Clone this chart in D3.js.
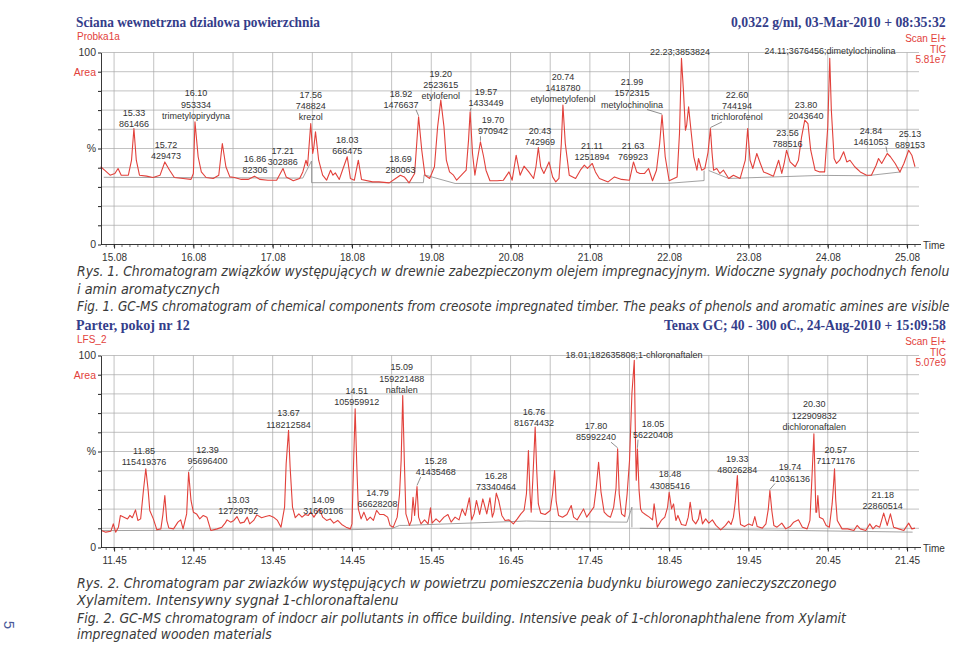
<!DOCTYPE html>
<html><head><meta charset="utf-8">
<script src="https://cdn.jsdelivr.net/npm/d3@7"></script>
<style>body{margin:0;background:#fff}svg{display:block}</style>
</head><body><svg id="c" width="960" height="651"></svg>
<script>
// ---------- DATA ----------
const topTicks = ["15.08","16.08","17.08","18.08","19.08","20.08","21.08","22.08","23.08","24.08","25.08"];
const bottomTicks = ["11.45","12.45","13.45","14.45","15.45","16.45","17.45","18.45","19.45","20.45","21.45"];
const topDomain = [14.915, 25.18];
const bottomDomain = [11.285, 21.55];
const yTickText = [[100,"100"],[90,"Area"],[50,"%"],[0,"0"]];

// [retention time, % of TIC]
const topTrace = [[14.91,40.5],[14.96,38.7],[15.03,36.1],[15.09,37],[15.13,39.6],[15.17,36.1],[15.26,36.1],[15.30,43.9],[15.33,60.4],[15.36,43.9],[15.40,36.1],[15.49,35.6],[15.57,34.9],[15.66,36.1],[15.72,43],[15.78,38.7],[15.84,34.9],[15.95,34.4],[16.05,33.9],[16.08,37],[16.10,63.9],[16.14,45.7],[16.18,37.8],[16.24,34.9],[16.33,34.4],[16.40,36.1],[16.445,52.6],[16.49,40.5],[16.54,35.2],[16.60,34.9],[16.685,33.9],[16.77,33.9],[16.85,35.6],[16.92,33.9],[17.02,33.5],[17.13,33.5],[17.21,39.6],[17.25,35.2],[17.34,33.2],[17.42,34.4],[17.46,37.8],[17.50,43.9],[17.52,41],[17.56,63],[17.585,47.4],[17.60,51],[17.62,58.7],[17.66,43.9],[17.71,36.1],[17.76,33.5],[17.81,38.7],[17.84,36.1],[17.87,37.3],[17.92,33.9],[17.96,38.7],[18.02,45.7],[18.06,34.4],[18.11,33.5],[18.16,43.9],[18.20,33.9],[18.34,32.6],[18.42,32.6],[18.55,32.1],[18.63,34.4],[18.69,36.1],[18.74,35.2],[18.80,32.1],[18.87,37],[18.92,66.5],[18.96,49.1],[19.00,36.1],[19.06,34.4],[19.12,40.5],[19.16,61.3],[19.20,75.2],[19.24,61.3],[19.27,43.9],[19.31,37.8],[19.36,36.1],[19.40,33.5],[19.46,36.1],[19.52,38.7],[19.55,54.5],[19.57,69.1],[19.60,47.4],[19.63,36.1],[19.66,43.9],[19.70,53.5],[19.74,45.7],[19.77,38.7],[19.82,33.2],[19.91,33.2],[19.99,33.5],[20.06,37.8],[20.10,33.5],[20.15,46.5],[20.20,36.1],[20.25,40.8],[20.31,37.8],[20.37,34.4],[20.40,40.5],[20.43,50.5],[20.46,40.5],[20.50,37],[20.565,43],[20.61,35.2],[20.65,32.6],[20.69,34.4],[20.72,52.6],[20.74,72.6],[20.77,52.6],[20.82,36.1],[20.90,34.4],[20.96,38.7],[21.01,41.3],[21.05,39.6],[21.11,42.2],[21.15,37.8],[21.20,34.4],[21.31,32.6],[21.39,35.2],[21.48,33.9],[21.58,33.5],[21.63,43],[21.67,37.8],[21.71,37],[21.77,37],[21.82,39.6],[21.87,33.2],[21.92,38.7],[21.96,52.6],[21.99,67.4],[22.03,45.7],[22.08,33.2],[22.18,35.2],[22.21,57.8],[22.235,97],[22.26,80],[22.285,59.5],[22.30,62],[22.325,71.7],[22.355,59.5],[22.39,45.7],[22.43,38.7],[22.45,44.8],[22.49,38.7],[22.53,39.6],[22.57,48],[22.60,60.4],[22.62,48],[22.64,38.7],[22.68,39.6],[22.72,37],[22.765,38.7],[22.83,34.4],[22.89,36.1],[22.975,34.4],[23.04,43.9],[23.07,60.4],[23.10,43.9],[23.135,39.6],[23.185,47.4],[23.23,42.2],[23.27,37.8],[23.32,37],[23.395,35.6],[23.46,43.9],[23.50,37],[23.53,42.2],[23.56,49.1],[23.605,43],[23.67,40.5],[23.71,43.9],[23.75,56.1],[23.79,64.8],[23.83,63],[23.865,49.1],[23.92,38.7],[23.98,37.8],[24.04,37.8],[24.08,61.3],[24.105,97],[24.125,70],[24.16,44.8],[24.19,42.2],[24.23,43.9],[24.28,48.3],[24.32,43],[24.36,43.9],[24.42,40.5],[24.49,37.8],[24.57,36.1],[24.63,36.1],[24.69,41.3],[24.72,44.8],[24.76,42.2],[24.83,47.4],[24.87,45.7],[24.93,42.2],[24.99,37.8],[25.04,42.2],[25.10,49.1],[25.14,46.5],[25.18,40.5]];

const topBaseline = [
  [[14.95,35],[17.46,34.6],[17.57,43.5]],
  [[17.57,43.5],[17.57,32.2],[18.98,32.2],[18.99,36.3],[19.38,31.8],[22.05,31.8],[22.52,33.3],[22.52,38.5]],
  [[22.58,38.5],[22.83,34.4],[24.0,36.0],[24.57,35.8],[25.0,37.8]]
];

const bottomTrace = [[11.29,8.9],[11.345,8],[11.41,8.5],[11.44,12.3],[11.47,8],[11.505,10.6],[11.53,16.7],[11.575,15.8],[11.62,14.9],[11.65,16.7],[11.68,15.5],[11.72,19.6],[11.75,14.1],[11.785,14.9],[11.82,29.7],[11.85,41],[11.88,29.7],[11.90,19.3],[11.945,14.9],[11.99,9.2],[12.04,9.7],[12.065,17],[12.09,27.1],[12.115,14],[12.14,10.2],[12.20,9.7],[12.255,13.2],[12.29,14.4],[12.32,9.7],[12.365,17.5],[12.39,39.2],[12.42,24.5],[12.45,18.4],[12.49,17.5],[12.53,14.9],[12.575,16.7],[12.62,15.8],[12.67,8.9],[12.75,9.7],[12.81,10.6],[12.85,12.7],[12.875,14.4],[12.92,13.2],[12.96,14.1],[13.0,16.1],[13.04,12.7],[13.09,13.2],[13.13,15.8],[13.16,12.3],[13.21,14.1],[13.25,17],[13.31,15.5],[13.36,16.1],[13.41,16.7],[13.46,15.8],[13.51,14.1],[13.555,10.6],[13.60,21],[13.62,43.6],[13.65,61],[13.67,41.8],[13.70,21],[13.735,15.5],[13.78,17.5],[13.82,15.8],[13.86,17.2],[13.90,16.7],[13.93,18.4],[13.97,15.8],[14.01,18.4],[14.04,20.1],[14.08,15.8],[14.13,14.1],[14.175,14.9],[14.22,12.7],[14.27,14.1],[14.32,12],[14.375,10.6],[14.43,9.7],[14.45,12.3],[14.47,43.6],[14.49,72.2],[14.51,43.6],[14.53,20.1],[14.565,14.9],[14.60,18.4],[14.64,14.1],[14.68,15.8],[14.72,14.1],[14.76,19.3],[14.80,17.2],[14.85,17.2],[14.90,15.8],[14.93,11.5],[14.97,10.6],[15.02,15.8],[15.05,28],[15.07,45.3],[15.09,79.2],[15.11,45.3],[15.13,17.5],[15.175,11.5],[15.20,14.1],[15.22,26.2],[15.24,16.7],[15.27,31.8],[15.29,15.8],[15.32,12.3],[15.365,14.4],[15.41,12.3],[15.44,20.7],[15.46,12.7],[15.51,14.9],[15.555,13.2],[15.61,15.8],[15.66,17.2],[15.70,13.2],[15.75,15.8],[15.80,14.4],[15.84,20.1],[15.88,16.7],[15.93,25.9],[15.96,14.4],[15.99,17.5],[16.02,24.5],[16.06,17.2],[16.10,25.3],[16.15,17.5],[16.19,25.9],[16.22,15.8],[16.24,18.4],[16.27,28.3],[16.30,24.5],[16.34,16.7],[16.38,14.1],[16.43,14.4],[16.485,12.3],[16.535,14.9],[16.58,17.5],[16.62,19.3],[16.65,28],[16.675,50.5],[16.695,28],[16.71,18.4],[16.73,35],[16.76,62.7],[16.78,40],[16.80,22.7],[16.83,17.9],[16.885,17.2],[16.95,19.3],[16.98,28],[17.005,40.1],[17.025,24],[17.055,16.7],[17.105,15.8],[17.16,17.2],[17.215,21.9],[17.245,15.8],[17.29,14.4],[17.33,17.2],[17.37,20.1],[17.41,15.8],[17.455,18.4],[17.50,21],[17.53,31],[17.56,44.4],[17.59,29],[17.63,18.4],[17.67,16.7],[17.71,15.8],[17.75,21],[17.78,31],[17.80,51.4],[17.82,28],[17.85,17.5],[17.89,16.1],[17.92,28],[17.95,45.3],[17.98,80],[18.01,97.5],[18.025,55],[18.035,35],[18.05,51.4],[18.07,30],[18.09,20],[18.11,18.4],[18.15,17.2],[18.20,15.8],[18.24,14.4],[18.26,22.7],[18.30,10.6],[18.35,14.1],[18.395,15.8],[18.43,21],[18.45,28.8],[18.48,20.1],[18.505,22.7],[18.535,14.1],[18.56,16.7],[18.605,12],[18.66,11.5],[18.69,15.8],[18.715,23.6],[18.745,14.4],[18.785,12.3],[18.82,14.9],[18.84,19.6],[18.87,12.3],[18.91,14.9],[18.95,12.7],[18.995,14.4],[19.04,11.5],[19.10,9.2],[19.16,11.5],[19.20,13.7],[19.23,12],[19.26,15.8],[19.285,24],[19.31,37.5],[19.33,20],[19.35,12],[19.40,10.9],[19.455,12.3],[19.50,11.5],[19.53,16.1],[19.56,10.9],[19.625,10.1],[19.67,12.3],[19.70,20],[19.72,29.7],[19.745,19],[19.77,11.5],[19.81,10.6],[19.87,12.7],[19.92,9.7],[19.975,10.9],[20.02,13.2],[20.08,14.4],[20.13,10.6],[20.19,9.7],[20.225,14.1],[20.25,36],[20.275,59.2],[20.30,18.4],[20.31,18.4],[20.325,27.1],[20.345,15.8],[20.39,14.9],[20.43,11.5],[20.47,10.6],[20.505,22.7],[20.52,31],[20.535,41],[20.55,25],[20.57,14.1],[20.63,9.7],[20.70,9.7],[20.78,8.9],[20.82,11.5],[20.86,9.7],[20.93,8.9],[20.98,12.3],[21.02,9.7],[21.06,11.5],[21.105,10.6],[21.155,17.9],[21.20,11.5],[21.24,17.5],[21.28,10.6],[21.345,9.7],[21.41,8.9],[21.47,12.7],[21.51,9.7],[21.55,10.1]];

const bottomBaseline = [
  [[11.29,8.8],[14.45,9.3],[14.95,9.8],[15.05,11.5],[15.12,11.5],[16.65,13.8],[17.0,13.5],[17.92,13.2],[17.98,21],[17.98,10.5]],
  [[18.08,10],[21.52,8]]
];

// peak annotations: rt text, extra lines, label anchor (time, % level of first line), peak height, leader line
const topLabels = [
  {rt:"15.33", lines:["861466"], lt:15.331, lp:68.6, ph:60.4, lead:false},
  {rt:"15.72", lines:["429473"], lt:15.735, lp:51.8, ph:43, lead:false},
  {rt:"16.10", lines:["953334","trimetylopirydyna"], lt:16.113, lp:78.8, ph:63.9, lead:false},
  {rt:"16.86", lines:["82306"], lt:16.857, lp:44.7, ph:35.6, lead:false},
  {rt:"17.21", lines:["302886"], lt:17.206, lp:48.9, ph:39.6, lead:false},
  {rt:"17.56", lines:["748824","krezol"], lt:17.56, lp:77.9, ph:63, lead:false},
  {rt:"18.03", lines:["666475"], lt:18.02, lp:54.4, ph:45.7, lead:false},
  {rt:"18.69", lines:["280063"], lt:18.692, lp:44.8, ph:36.1, lead:false},
  {rt:"18.92", lines:["1476637"], lt:18.698, lp:78.6, ph:66.5, lead:true},
  {rt:"19.20", lines:["2523615","etylofenol"], lt:19.2, lp:89, ph:75.2, lead:false},
  {rt:"19.57", lines:["1433449"], lt:19.77, lp:79.4, ph:69.1, lead:true},
  {rt:"19.70", lines:["970942"], lt:19.858, lp:64.8, ph:53.5, lead:true},
  {rt:"20.43", lines:["742969"], lt:20.45, lp:59.1, ph:50.5, lead:false},
  {rt:"20.74", lines:["1418780","etylometylofenol"], lt:20.741, lp:87.5, ph:72.6, lead:false},
  {rt:"21.11", lines:["1251894"], lt:21.107, lp:51.3, ph:42.2, lead:false},
  {rt:"21.63", lines:["769923"], lt:21.624, lp:51.3, ph:43, lead:false},
  {rt:"21.99", lines:["1572315","metylochinolina"], lt:21.611, lp:84.6, ph:67.4, lead:true},
  {rt:"22.23;3853824", lines:[], lt:22.216, lp:100.3, ph:97, lead:false},
  {rt:"22.60", lines:["744194","trichlorofenol"], lt:22.935, lp:78.1, ph:60.4, lead:true},
  {rt:"23.56", lines:["788516"], lt:23.572, lp:58.1, ph:49.1, lead:false},
  {rt:"23.80", lines:["2043640"], lt:23.805, lp:72.9, ph:64.8, lead:false},
  {rt:"24.11;3676456;dimetylochinolina", lines:[], lt:24.108, lp:100.8, ph:97, lead:false},
  {rt:"24.84", lines:["1461053"], lt:24.625, lp:59.4, ph:47.4, lead:true, pt:24.83},
  {rt:"25.13", lines:["689153"], lt:25.117, lp:57.8, ph:49.1, lead:false}
];

const bottomLabels = [
  {rt:"11.85", lines:["115419376"], lt:11.827, lp:50.3, ph:41, lead:false},
  {rt:"12.39", lines:["95696400"], lt:12.628, lp:50.8, ph:39.2, lead:true},
  {rt:"13.03", lines:["12729792"], lt:13.016, lp:25, ph:16.1, lead:false},
  {rt:"13.67", lines:["118212584"], lt:13.649, lp:69.9, ph:61, lead:false},
  {rt:"14.09", lines:["31660106"], lt:14.088, lp:24.7, ph:15.8, lead:false},
  {rt:"14.51", lines:["105959912"], lt:14.51, lp:81.5, ph:72.2, lead:false},
  {rt:"14.79", lines:["66628208"], lt:14.772, lp:28.4, ph:19.3, lead:false},
  {rt:"15.09", lines:["159221488","naftalen"], lt:15.077, lp:93.9, ph:79.2, lead:false},
  {rt:"15.28", lines:["41435468"], lt:15.506, lp:45.2, ph:31.8, lead:true, pt:15.27},
  {rt:"16.28", lines:["73340464"], lt:16.266, lp:37.2, ph:28.3, lead:false},
  {rt:"16.76", lines:["81674432"], lt:16.745, lp:70.7, ph:62.7, lead:false},
  {rt:"17.80", lines:["85992240"], lt:17.527, lp:63.3, ph:51.4, lead:true},
  {rt:"18.01;182635808;1-chloronaftalen", lines:[], lt:18.006, lp:100.3, ph:97.5, lead:false},
  {rt:"18.05", lines:["56220408"], lt:18.246, lp:64.6, ph:51.4, lead:true},
  {rt:"18.48", lines:["43085416"], lt:18.46, lp:38.1, ph:28.8, lead:false},
  {rt:"19.33", lines:["48026284"], lt:19.309, lp:46.1, ph:37.5, lead:false},
  {rt:"19.74", lines:["41036136"], lt:19.974, lp:41.8, ph:29.7, lead:true, pt:19.72},
  {rt:"20.30", lines:["122909832","dichloronaftalen"], lt:20.28, lp:74.6, ph:59.2, lead:false},
  {rt:"20.57", lines:["71171176"], lt:20.55, lp:50.8, ph:41, lead:false},
  {rt:"21.18", lines:["22860514"], lt:21.142, lp:27.3, ph:17.9, lead:false}
];

const headers = {
  topLeft: "Sciana wewnetrzna dzialowa powierzchnia",
  topSample: "Probka1a",
  topRight: "0,0322 g/ml,  03-Mar-2010 + 08:35:32",
  topScan: ["Scan EI+","TIC","5.81e7"],
  botLeft: "Parter, pokoj nr 12",
  botSample: "LFS_2",
  botRight: "Tenax GC; 40 - 300 oC.,  24-Aug-2010 + 15:09:58",
  botScan: ["Scan EI+","TIC","5.07e9"]
};
const topCaption = [
  "Rys. 1. Chromatogram związków występujących w drewnie zabezpieczonym olejem impregnacyjnym. Widoczne sygnały pochodnych fenolu",
  "i amin aromatycznych",
  "Fig. 1. GC-MS chromatogram of chemical components from creosote impregnated timber. The peaks of phenols and aromatic amines are visible"
];
const bottomCaption = [
  "Rys. 2. Chromatogram par zwiazków występujących w powietrzu pomieszczenia budynku biurowego zanieczyszczonego",
  "Xylamitem. Intensywny sygnał 1-chloronaftalenu",
  "Fig. 2. GC-MS chromatogram of indocr air pollutants in office building. Intensive peak of 1-chloronaphthalene from Xylamit",
  "impregnated wooden materials"
];

// ---------- DRAWING ----------
const svg = d3.select("#c");
const SANS = "'Liberation Sans', Arial, sans-serif";
const SERIF = "'Liberation Serif', 'Times New Roman', serif";
const NARROW = "'Liberation Sans Narrow', 'DejaVu Sans Condensed', 'Liberation Sans', sans-serif";
const BLUE = "#343d8a", RED = "#e2413b", TXT = "#333";

// text squeezed horizontally to a target width via a transform
function fitText(parent, s, x, y, width, anchor, attrs) {
  const g = parent.append("g");
  const t = g.append("text").attr("x", 0).attr("y", 0).text(s);
  Object.entries(attrs).forEach(([k, v]) => t.attr(k, v));
  const nat = t.node().getComputedTextLength();
  const sx = width / nat;
  const x0 = anchor === "end" ? x - width : x;
  g.attr("transform", `translate(${x0},${y}) scale(${sx},1)`);
  return t;
}

function panel(cfg) {
  const x = d3.scaleLinear().domain(cfg.domain).range([101, 915]);
  const y = d3.scaleLinear().domain([0, 100]).range(cfg.yr);
  const g = svg.append("g");
  const tv = cfg.ticks.map(Number);

  // grid
  g.append("g").selectAll("line").data(d3.range(10, 101, 10)).join("line")
    .attr("x1", 101).attr("x2", 919).attr("y1", d => y(d)).attr("y2", d => y(d))
    .attr("stroke", "#a8a8a8").attr("stroke-width", 0.7);
  g.append("g").selectAll("line").data(d3.range(tv[0], tv[tv.length - 1] + 0.001, 0.5)).join("line")
    .attr("x1", d => x(d)).attr("x2", d => x(d)).attr("y1", y(0)).attr("y2", y(100))
    .attr("stroke", "#a8a8a8").attr("stroke-width", 0.7);

  // baseline (integration) segments
  const line = d3.line().x(d => x(d[0])).y(d => y(d[1]));
  g.append("g").selectAll("path").data(cfg.base).join("path")
    .attr("d", line).attr("fill", "none").attr("stroke", "#8a8a8a").attr("stroke-width", 0.8);

  // trace
  g.append("path").datum(cfg.trace).attr("d", line)
    .attr("fill", "none").attr("stroke", RED).attr("stroke-width", 1.1).attr("stroke-linejoin", "round");

  // x axis
  const xa = g.append("g").attr("transform", `translate(0,${y(0)})`)
    .call(d3.axisBottom(x).tickValues(tv).tickFormat((d, i) => cfg.ticks[i]).tickSize(4).tickSizeOuter(0));
  xa.select(".domain").remove();
  xa.selectAll("text").attr("font-family", SANS).attr("font-size", 10).attr("fill", TXT).attr("dy", "0.95em");
  xa.selectAll("line").attr("stroke", "#222");
  const minorStart = tv[0] - 0.1 * Math.floor((tv[0] - cfg.domain[0]) / 0.1);
  g.append("g").selectAll("line").data(d3.range(minorStart, cfg.domain[1] + 0.04, 0.1)).join("line")
    .attr("x1", d => x(d)).attr("x2", d => x(d)).attr("y1", y(0)).attr("y2", y(0) + 2.5)
    .attr("stroke", "#333").attr("stroke-width", 0.7);
  g.append("line").attr("x1", 101).attr("x2", 921).attr("y1", y(0)).attr("y2", y(0))
    .attr("stroke", "#222").attr("stroke-width", 0.9);
  g.append("text").attr("x", 923).attr("y", y(0) + 4).text("Time")
    .attr("font-family", SANS).attr("font-size", 10).attr("fill", TXT);

  // y axis
  const labMap = new Map(yTickText);
  const ya = g.append("g").attr("transform", "translate(101,0)")
    .call(d3.axisLeft(y).tickValues(d3.range(0, 101, 10)).tickSize(3).tickSizeOuter(0)
      .tickFormat(d => labMap.get(d) || ""));
  ya.select(".domain").attr("stroke", "#222").attr("stroke-width", 0.9);
  ya.selectAll("line").attr("stroke", "#222");
  ya.selectAll("text").attr("font-family", SANS).attr("font-size", 10.5)
    .attr("fill", d => d === 90 ? RED : TXT).attr("x", -5);

  // annotations
  const lab = g.append("g").attr("font-family", SANS).attr("font-size", 9).attr("fill", TXT).attr("text-anchor", "middle");
  cfg.labels.forEach(L => {
    const all = [L.rt].concat(L.lines);
    const cx = x(L.lt), cy = y(L.lp);
    all.forEach((s, i) => {
      lab.append("text").attr("x", cx).attr("y", cy + i * 11.2).attr("dy", "0.35em").text(s);
    });
    if (L.lead) {
      const pt = L.pt !== undefined ? L.pt : parseFloat(L.rt);
      const px = x(pt), py = y(L.ph);
      const half = 15;
      const sx = cx + Math.max(-half, Math.min(half, px - cx));
      const sy = cy + (all.length - 1) * 11.2 + 5;
      lab.append("line").attr("x1", sx).attr("y1", sy).attr("x2", px).attr("y2", py - 1)
        .attr("stroke", "#444").attr("stroke-width", 0.6);
    }
  });

  // headers
  const h = cfg.head;
  const titleAttrs = {"font-family": SERIF, "font-weight": "bold", "font-size": 14.5, "fill": BLUE};
  fitText(svg, h[0], 76, cfg.hy, cfg.hw[0], "start", titleAttrs);
  fitText(svg, h[2], 946, cfg.hy, cfg.hw[1], "end", titleAttrs);
  svg.append("text").attr("x", 77).attr("y", cfg.hy + 13).text(h[1])
    .attr("font-family", SANS).attr("font-size", 10).attr("fill", RED);
  h[3].forEach((s, i) => {
    svg.append("text").attr("x", 946).attr("y", cfg.hy + 15 + i * 10.5).attr("text-anchor", "end").text(s)
      .attr("font-family", SANS).attr("font-size", 10).attr("fill", RED);
  });

  // caption
  cfg.caption.forEach((s, i) => {
    fitText(svg, s, 77, cfg.cy[i], cfg.cw[i], "start",
      {"font-family": NARROW, "font-style": "italic", "font-size": 14, "fill": "#3a3a3a"});
  });
}

panel({
  domain: topDomain, yr: [244.5, 52.5], ticks: topTicks, trace: topTrace, base: topBaseline, labels: topLabels,
  head: [headers.topLeft, headers.topSample, headers.topRight, headers.topScan], hy: 27, hw: [244, 215],
  caption: topCaption, cy: [276, 294, 311], cw: [873, 143, 873]
});
panel({
  domain: bottomDomain, yr: [547.5, 355.5], ticks: bottomTicks, trace: bottomTrace, base: bottomBaseline, labels: bottomLabels,
  head: [headers.botLeft, headers.botSample, headers.botRight, headers.botScan], hy: 330, hw: [114, 282],
  caption: bottomCaption, cy: [588, 605, 623, 639], cw: [760, 322, 770, 195]
});

// page number in margin
svg.append("text").attr("transform", "translate(4,625) rotate(90)").text("5")
  .attr("font-family", SANS).attr("font-size", 15).attr("fill", "#4a5a9a").attr("text-anchor", "middle");
</script>
</body></html>
